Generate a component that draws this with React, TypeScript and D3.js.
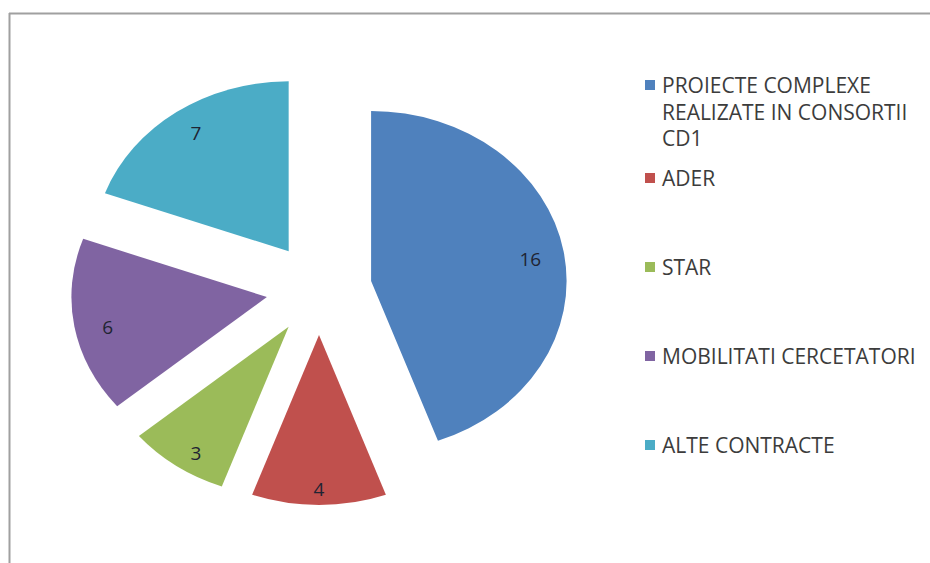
import * as d3 from 'd3';
import {useEffect, useRef} from 'react';

const categories = ['PROIECTE COMPLEXE REALIZATE IN CONSORTII CD1', 'ADER', 'STAR', 'MOBILITATI CERCETATORI', 'ALTE CONTRACTE'];
const legendLines = [['PROIECTE COMPLEXE', 'REALIZATE IN CONSORTII', 'CD1'], ['ADER'], ['STAR'], ['MOBILITATI CERCETATORI'], ['ALTE CONTRACTE']];
const values = [16, 4, 3, 6, 7];
const colors = ['#4F81BD', '#C0504D', '#9BBB59', '#8064A2', '#4BACC6'];

const W = 930, H = 563;

export default function App() {
  const ref = useRef<SVGSVGElement>(null);

  useEffect(() => {
    const svg = d3.select(ref.current); svg.selectAll('*').remove();

    // frame (only left & top visible in the original)
    svg.append('line').attr('x1', 9.5).attr('y1', 13).attr('x2', 9.5).attr('y2', H).attr('stroke', '#a0a0a0').attr('stroke-width', 2);
    svg.append('line').attr('x1', 9).attr('y1', 13.5).attr('x2', W).attr('y2', 13.5).attr('stroke', '#a0a0a0').attr('stroke-width', 2);

    const cx = 319, cy = 289;
    const r = 170, sx = 1.15; // pie is stretched horizontally
    const explode = 46;
    const labelK = 0.88;

    const pie = d3.pie<number>().sort(null).value(d => d);
    const arcs = pie(values);
    const arc = d3.arc<d3.PieArcDatum<number>>().innerRadius(0).outerRadius(r);

    const g = svg.append('g');
    arcs.forEach((a, i) => {
      const mid = (a.startAngle + a.endAngle) / 2;
      const ox = Math.sin(mid) * explode * sx;
      const oy = -Math.cos(mid) * explode;
      g.append('path')
        .attr('d', arc(a))
        .attr('transform', `translate(${cx + ox},${cy + oy}) scale(${sx},1)`)
        .attr('fill', colors[i]);
      const lx = cx + ox + Math.sin(mid) * r * labelK * sx * 0.94;
      const ly = cy + oy - Math.cos(mid) * r * labelK + 4;
      g.append('text')
        .attr('x', lx).attr('y', ly)
        .attr('text-anchor', 'middle')
        .attr('dominant-baseline', 'central')
        .attr('font-family', 'Open Sans, sans-serif')
        .attr('font-size', '19px')
        .attr('fill', '#1f2433')
        .text(values[i]);
    });

    // legend
    const legendY = d3.scalePoint<string>().domain(categories.slice(1)).range([178, 445]);
    const lg = svg.append('g').attr('font-family', 'Open Sans, sans-serif').attr('font-size', '21px').attr('fill', '#3c3c3c');
    categories.forEach((c, i) => {
      const y0 = i === 0 ? 85 : legendY(c)!;
      lg.append('rect').attr('x', 645).attr('y', y0 - 5).attr('width', 10).attr('height', 10).attr('fill', colors[i]);
      legendLines[i].forEach((t, j) => {
        lg.append('text').attr('x', 662).attr('y', y0 + j * 26.5)
          .attr('dominant-baseline', 'central').text(t);
      });
    });
  }, []);

  return (
    <div style={{position: 'fixed', left: 0, top: 0, background: '#fff'}}>
      <svg ref={ref} width={W} height={H} style={{display: 'block'}} />
    </div>
  );
}
